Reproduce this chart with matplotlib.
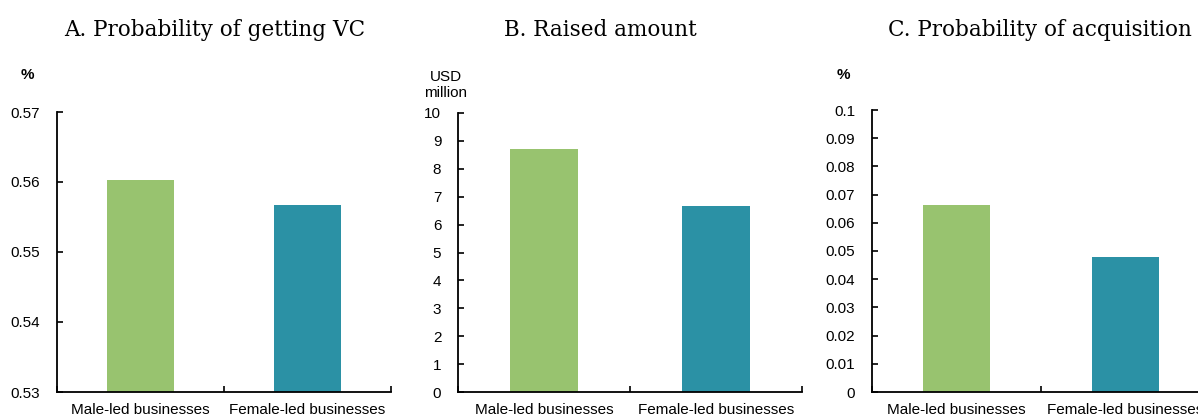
import matplotlib
matplotlib.use('Agg')
import matplotlib.pyplot as plt
from matplotlib.ticker import FixedLocator

categories = ['Male-led businesses', 'Female-led businesses']

prob_vc = [0.5603, 0.5567]
raised_amount = [8.72, 6.68]
prob_acq = [0.0663, 0.0479]

titles = ['A. Probability of getting VC', 'B. Raised amount', 'C. Probability of acquisition']
units = ['%', 'USD\nmillion', '%']

ylims = [(0.53, 0.57), (0, 10), (0, 0.1)]
yticks = [
    [0.53, 0.54, 0.55, 0.56, 0.57],
    [0, 1, 2, 3, 4, 5, 6, 7, 8, 9, 10],
    [0, 0.01, 0.02, 0.03, 0.04, 0.05, 0.06, 0.07, 0.08, 0.09, 0.1],
]
ytick_labels = [
    ['0.53', '0.54', '0.55', '0.56', '0.57'],
    ['0', '1', '2', '3', '4', '5', '6', '7', '8', '9', '10'],
    ['0', '0.01', '0.02', '0.03', '0.04', '0.05', '0.06', '0.07', '0.08', '0.09', '0.1'],
]

colors = ['#98c36f', '#2b91a5']

W, H = 1198, 416
fig = plt.figure(figsize=(W / 100, H / 100), dpi=100)

# axes boxes in pixels: left, top, right, bottom
boxes = [(57, 112, 391, 392), (458, 113, 802, 392), (872, 110, 1210, 392)]
title_x = [215, 600, 1040]
unit_x = [27, 446, 843]

series = [prob_vc, raised_amount, prob_acq]

for i in range(3):
    l, t, r, b = boxes[i]
    ax = fig.add_axes([l / W, 1 - b / H, (r - l) / W, (b - t) / H])
    ax.bar(range(len(categories)), series[i], width=0.4, color=colors, zorder=2)
    ax.set_xlim(-0.5, 1.5)
    ax.set_ylim(*ylims[i])
    ax.set_yticks(yticks[i])
    ax.set_yticklabels(ytick_labels[i], family='Liberation Sans', fontsize=11)
    ax.set_xticks(range(len(categories)))
    ax.set_xticklabels(categories, family='Liberation Sans', fontsize=11)
    # small inward ticks at the category boundaries
    ax.xaxis.set_minor_locator(FixedLocator([-0.5, 0.5, 1.5]))
    ax.tick_params(axis='x', which='major', length=0, pad=8)
    ax.tick_params(axis='x', which='minor', direction='in', length=4, width=1.2)
    ax.tick_params(axis='y', direction='in', length=4, width=1.2, pad=12)
    for s in ['top', 'right']:
        ax.spines[s].set_visible(False)
    for s in ['left', 'bottom']:
        ax.spines[s].set_linewidth(1.3)
    fig.text(title_x[i] / W, 1 - 30 / H, titles[i], ha='center', va='center',
             family='DejaVu Serif', fontsize=15.5)
    fig.text(unit_x[i] / W, 1 - 75 / H if i != 1 else 1 - 85 / H, units[i],
             ha='center', va='center', family='Liberation Sans', fontsize=11,
             fontweight='bold' if units[i] == '%' else 'normal', linespacing=1.2)

fig.savefig('out.png', dpi=100)
